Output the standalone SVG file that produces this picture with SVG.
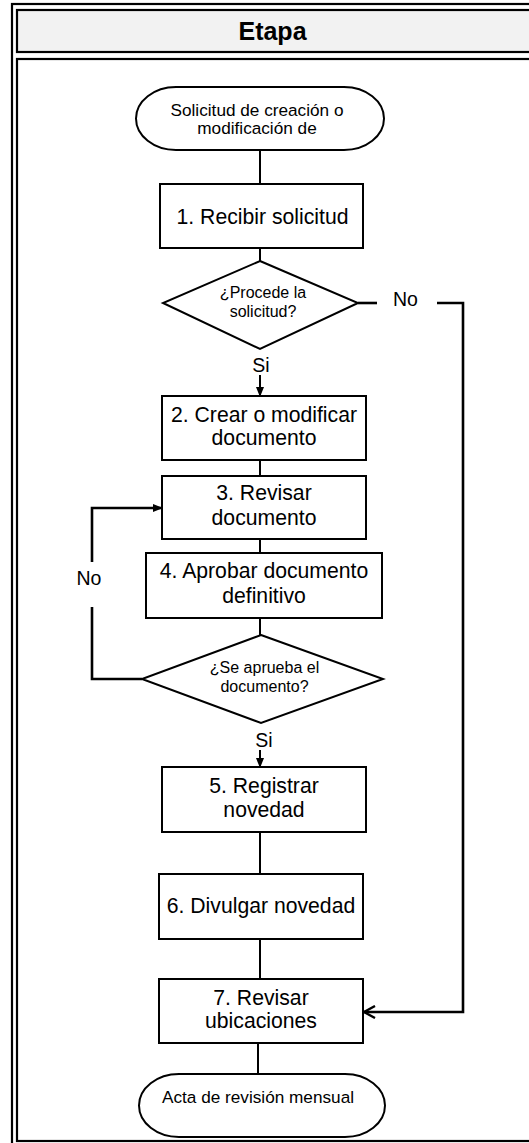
<svg xmlns="http://www.w3.org/2000/svg" width="529" height="1143" viewBox="0 0 529 1143">
  <defs>
    <style>
      .frame { fill: none; stroke: #000; stroke-width: 2.2; }
      .shape { fill: #fff; stroke: #000; stroke-width: 2; }
      .line { fill: none; stroke: #000; stroke-width: 2; }
      .loop { fill: none; stroke: #000; stroke-width: 2.6; }
      text { font-family: "Liberation Sans", Arial, sans-serif; fill: #000; text-anchor: middle; }
      .title { font-size: 25px; font-weight: bold; }
      .box { font-size: 21.2px; }
      .term { font-size: 17.2px; }
      .dec { font-size: 16px; }
      .lbl { font-size: 19.5px; }
    </style>
    <marker id="solid" markerWidth="10" markerHeight="10" refX="9" refY="5" orient="auto" markerUnits="userSpaceOnUse">
      <path d="M0,1 L10,5 L0,9 Z" fill="#000"/>
    </marker>
    <marker id="open" markerWidth="14" markerHeight="14" refX="12" refY="7" orient="auto" markerUnits="userSpaceOnUse">
      <path d="M1,1 L12,7 L1,13" fill="none" stroke="#000" stroke-width="2.4"/>
    </marker>
  </defs>

  <!-- lane frame -->
  <g id="lane">
    <rect class="frame" x="12" y="4" width="600" height="1200"/>
    <rect x="17" y="10" width="600" height="42" fill="#f2f2f2" stroke="#000" stroke-width="2.2"/>
    <rect class="frame" x="17" y="59" width="600" height="1082"/>
    <text class="title" x="272.5" y="40">Etapa</text>
  </g>

  <g id="start">
    <rect class="shape" x="136" y="87" width="248" height="63" rx="40" ry="31.5"/>
    <text class="term" x="257" y="115.5">Solicitud de creación o</text>
    <text class="term" x="257" y="133.5">modificación de</text>
  </g>

  <g id="step1">
    <rect class="shape" x="160" y="184" width="203" height="64"/>
    <text class="box" x="262.5" y="224">1. Recibir solicitud</text>
  </g>

  <g id="decision1">
    <polygon class="shape" points="260,261 358,303 260,349 163,303"/>
    <text class="dec" x="263" y="298">¿Procede la</text>
    <text class="dec" x="263" y="317">solicitud?</text>
  </g>

  <g id="step2">
    <rect class="shape" x="162" y="396" width="204" height="64"/>
    <text class="box" x="264" y="422">2. Crear o modificar</text>
    <text class="box" x="264" y="445">documento</text>
  </g>

  <g id="step3">
    <rect class="shape" x="162" y="476" width="204" height="63"/>
    <text class="box" x="264" y="500">3. Revisar</text>
    <text class="box" x="264" y="525">documento</text>
  </g>

  <g id="step4">
    <rect class="shape" x="146" y="553" width="236" height="65"/>
    <text class="box" x="264" y="578">4. Aprobar documento</text>
    <text class="box" x="264" y="603">definitivo</text>
  </g>

  <g id="decision2">
    <polygon class="shape" points="261,635 383,679 261,723 142,679"/>
    <text class="dec" x="264.5" y="673">¿Se aprueba el</text>
    <text class="dec" x="264.5" y="692">documento?</text>
  </g>

  <g id="step5">
    <rect class="shape" x="162" y="767" width="204" height="65"/>
    <text class="box" x="264" y="793">5. Registrar</text>
    <text class="box" x="264" y="817">novedad</text>
  </g>

  <g id="step6">
    <rect class="shape" x="159" y="874" width="204" height="65"/>
    <text class="box" x="261" y="913">6. Divulgar novedad</text>
  </g>

  <g id="step7">
    <rect class="shape" x="159" y="979" width="204" height="64"/>
    <text class="box" x="261" y="1005">7. Revisar</text>
    <text class="box" x="261" y="1028">ubicaciones</text>
  </g>

  <g id="end">
    <rect class="shape" x="139" y="1074" width="246" height="63" rx="40" ry="31.5"/>
    <text class="term" x="258" y="1103">Acta de revisión mensual</text>
  </g>

  <!-- connectors (drawn last so arrowheads sit on top of the boxes' edges) -->
  <g id="connectors">
    <line class="line" x1="260" y1="150" x2="260" y2="184"/>
    <line class="line" x1="260" y1="248" x2="260" y2="261"/>
    <line class="line" x1="260" y1="375" x2="260" y2="396" marker-end="url(#solid)"/>
    <line class="line" x1="260" y1="460" x2="260" y2="476"/>
    <line class="line" x1="260" y1="539" x2="260" y2="553"/>
    <line class="line" x1="260" y1="618" x2="260" y2="635"/>
    <line class="line" x1="260" y1="750" x2="260" y2="767" marker-end="url(#solid)"/>
    <line class="line" x1="260" y1="832" x2="260" y2="874"/>
    <line class="line" x1="260" y1="939" x2="260" y2="979"/>
    <line class="line" x1="258" y1="1043" x2="258" y2="1074"/>
    <!-- "No" branch to step 7 -->
    <line class="loop" x1="358" y1="303" x2="377" y2="303"/>
    <polyline class="loop" points="437,303 463,303 463,1012 364,1012" marker-end="url(#open)"/>
    <!-- "No" loop back to step 3 -->
    <polyline class="loop" points="142,679 92,679 92,607"/>
    <polyline class="loop" points="92,562 92,508 162,508" marker-end="url(#solid)"/>
    <text class="lbl" x="405.5" y="306">No</text>
    <text class="lbl" x="89" y="585">No</text>
    <text class="lbl" x="261" y="372">Si</text>
    <text class="lbl" x="264" y="747">Si</text>
  </g>
</svg>
